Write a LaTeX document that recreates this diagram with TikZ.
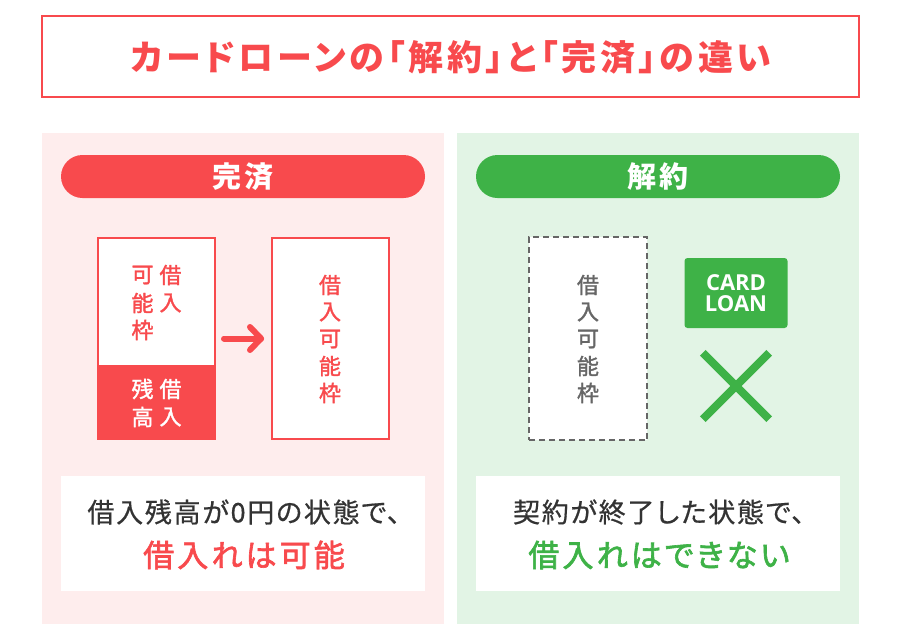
\documentclass[tikz,border=0pt]{standalone}
\usepackage{fontspec}
\setmainfont{Noto Sans CJK JP}[RawFeature=+palt]
\newfontfamily\titlef{Noto Sans CJK JP}[RawFeature=+palt,LetterSpace=10.5]
\newfontfamily\pillf{Noto Sans CJK JP}[RawFeature=+palt,LetterSpace=8]
\newfontfamily\labelf{Noto Sans CJK JP}[RawFeature=+palt,FakeBold=1.5]
\newfontfamily\msgf{Noto Sans CJK JP}[RawFeature=+palt,LetterSpace=6.5,FakeBold=0.6]
\newfontfamily\emphf{Noto Sans CJK JP}[RawFeature=+palt,LetterSpace=10,FakeBold=2]
\newfontfamily\cardf{Open Sans}
\newcommand{\fs}[1]{\fontsize{#1}{#1}\selectfont}
\definecolor{myred}{HTML}{F84A4D}
\definecolor{mygreen}{HTML}{3EB247}
\definecolor{pinkbg}{HTML}{FEEDED}
\definecolor{greenbg}{HTML}{E2F4E5}
\definecolor{txtdark}{HTML}{333333}
\definecolor{txtgray}{HTML}{666666}
\tikzset{
  panel/.style={draw=none,minimum width=402pt,minimum height=491pt,inner sep=0pt,anchor=north west},
  pill/.style={rounded corners=21.5pt,minimum width=364pt,minimum height=43pt,inner sep=0pt,text=white,font=\pillf\fs{29}\bfseries},
  limitbox/.style={draw=myred,line width=2pt,fill=white,inner sep=0pt},
  vlabel/.style={align=center,inner sep=0pt,font=\labelf\fs{22}},
  msg/.style={fill=white,minimum width=364pt,minimum height=115pt,inner sep=0pt,anchor=north west},
}
\begin{document}
\begin{tikzpicture}[x=1pt,y=-1pt]
\useasboundingbox (0,0) rectangle (900,640);
\fill[white] (0,0) rectangle (900,640);
% title
\node[draw=myred,line width=2pt,fill=white,minimum width=817pt,minimum height=81pt,inner sep=0pt] (title) at (450,56) {};
\node[text=myred,font=\titlef\fs{35}\bfseries,inner sep=0pt] (titletext) at (451,57) {カードローンの「解約」と「完済」の違い};
% panels
\node[panel,fill=pinkbg] (pL) at (42,133) {};
\node[panel,fill=greenbg] (pR) at (457,133) {};
\node[pill,fill=myred] (pillL) at (243,176.5) {完済};
\node[pill,fill=mygreen] (pillR) at (658,176.5) {解約};
% left diagram
\node[limitbox,minimum width=117pt,minimum height=201pt] (boxA) at (156.3,338.5) {};
\node[fill=myred,minimum width=118.5pt,minimum height=75pt,inner sep=0pt] (boxAlow) at (156.3,402.5) {};
\node[limitbox,minimum width=117pt,minimum height=201pt] (boxB) at (330.2,338.5) {};
\node[vlabel,text=myred] (t1) at (170.5,275) {借};
\node[vlabel,text=myred] (t2) at (170.5,303) {入};
\node[vlabel,text=myred] (t3) at (142.5,275) {可};
\node[vlabel,text=myred] (t4) at (142.5,303) {能};
\node[vlabel,text=myred] (t5) at (142.5,330) {枠};
\node[vlabel,text=white] (t6) at (170.5,389) {借};
\node[vlabel,text=white] (t7) at (170.5,417) {入};
\node[vlabel,text=white] (t8) at (142.5,389) {残};
\node[vlabel,text=white] (t9) at (142.5,417) {高};
\node[vlabel,text=myred] (b1) at (330,285) {借};
\node[vlabel,text=myred] (b2) at (330,312) {入};
\node[vlabel,text=myred] (b3) at (330,339) {可};
\node[vlabel,text=myred] (b4) at (330,366) {能};
\node[vlabel,text=myred] (b5) at (330,393) {枠};
\coordinate (ar1) at (224,338.5);
\coordinate (ar2) at (261,338.5);
\coordinate (ar3) at (250,327);
\coordinate (ar4) at (250,350);
\draw[myred,line width=6pt,line cap=round,line join=round] (ar1) -- (ar2);
\draw[myred,line width=6pt,line cap=round,line join=round] (ar3) -- (ar2) -- (ar4);
% right diagram
\node[draw=txtgray,line width=2pt,dash pattern=on 6pt off 4pt,fill=white,minimum width=118.5pt,minimum height=203pt,inner sep=0pt] (boxC) at (588.2,338.5) {};
\node[vlabel,text=txtgray] (c1) at (588,285) {借};
\node[vlabel,text=txtgray] (c2) at (588,312) {入};
\node[vlabel,text=txtgray] (c3) at (588,339) {可};
\node[vlabel,text=txtgray] (c4) at (588,366) {能};
\node[vlabel,text=txtgray] (c5) at (588,393) {枠};
\node[fill=mygreen,rounded corners=3pt,minimum width=103pt,minimum height=70pt,inner sep=0pt,text=white,align=center,font=\cardf\fontsize{22}{21.5}\selectfont\bfseries] (card) at (736,293) {CARD\\LOAN};
\coordinate (x1) at (702.8,352.8);
\coordinate (x2) at (769.2,419.2);
\coordinate (x3) at (769.2,352.8);
\coordinate (x4) at (702.8,419.2);
\draw[mygreen,line width=8pt] (x1) -- (x2);
\draw[mygreen,line width=8pt] (x3) -- (x4);
% messages
\node[msg] (mL) at (61,476) {};
\node[msg] (mR) at (476,476) {};
\node[text=txtdark,font=\msgf\fs{27},inner sep=0pt] (mL1) at (244,512) {借入残高が0円の状態で、};
\node[text=myred,font=\emphf\fs{31},inner sep=0pt] (mL2) at (244,555) {借入れは可能};
\node[text=txtdark,font=\msgf\fs{27},inner sep=0pt] (mR1) at (659,512) {契約が終了した状態で、};
\node[text=mygreen,font=\emphf\fs{31},inner sep=0pt] (mR2) at (659,555) {借入れはできない};
\end{tikzpicture}
\end{document}
